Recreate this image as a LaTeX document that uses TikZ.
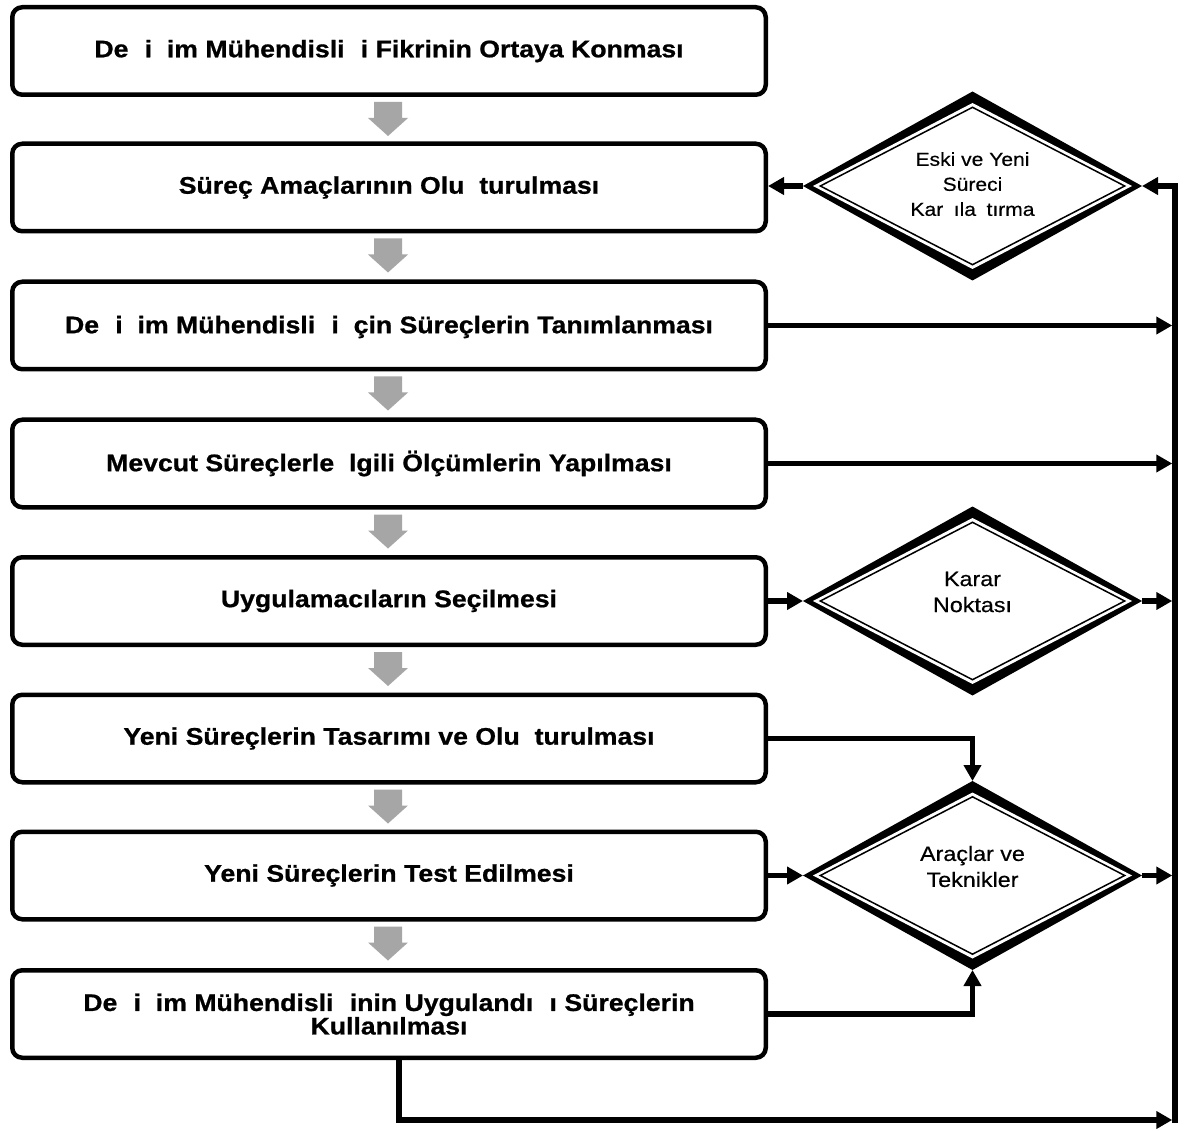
\documentclass[tikz,border=0pt]{standalone}
\usepackage{fontspec}
\setmainfont{Liberation Sans}
\newfontfamily\boxfont[FakeStretch=1.11, BoldFeatures={FakeBold=0.8}]{Liberation Sans}
\newfontfamily\diafont[FakeStretch=1.12, FakeBold=0.4]{Liberation Sans}
\usetikzlibrary{shapes.geometric,arrows.meta,calc}
\definecolor{arrowgray}{RGB}{166,166,166}
% width of a glyph that the source font could not show
\newcommand{\nog}[1]{\phantom{#1}}
\begin{document}
\begin{tikzpicture}[x=1pt,y=-1pt,
  >={Triangle[length=16pt,width=17pt]},
  stepbox/.style={draw, line width=4.5pt, rounded corners=10pt,
    minimum width=753.5pt, minimum height=87.5pt, inner sep=0pt, align=center,
    font=\boxfont\bfseries\fontsize{24}{20}\selectfont},
  conn/.style={draw, line width=5.5pt, ->},
  diaouter/.style={diamond, fill=black, minimum width=339pt, minimum height=189pt,
    inner sep=0pt, outer sep=0pt},
  diawhite/.style={diamond, fill=white, minimum width=319pt, minimum height=166pt,
    inner sep=0pt, outer sep=0pt},
  diathin/.style={diamond, draw, line width=1.5pt, minimum width=305pt,
    minimum height=158pt, inner sep=0pt},
  diatext/.style={align=center, inner sep=0pt},
]
\useasboundingbox (0,0) rectangle (1189,1131);
\fill[white] (0,0) rectangle (1189,1131);

% process steps
\node[stepbox] (b1) at (389,51)     {De\nog{ğ}i\nog{ş}im Mühendisli\nog{ğ}i Fikrinin Ortaya Konması};
\node[stepbox] (b2) at (389,187.5)  {Süreç Amaçlarının Olu\nog{ş}turulması};
\node[stepbox] (b3) at (389,325.5)  {De\nog{ğ}i\nog{ş}im Mühendisli\nog{ğ}i \nog{İ}çin Süreçlerin Tanımlanması};
\node[stepbox] (b4) at (389,463.5)  {Mevcut Süreçlerle \nog{İ}lgili Ölçümlerin Yapılması};
\node[stepbox] (b5) at (389,601)    {Uygulamacıların Seçilmesi};
\node[stepbox] (b6) at (389,738.5)  {Yeni Süreçlerin Tasarımı ve Olu\nog{ş}turulması};
\node[stepbox] (b7) at (389,875.5)  {Yeni Süreçlerin Test Edilmesi};
\node[stepbox] (b8) at (389,1014)   {De\nog{ğ}i\nog{ş}im Mühendisli\nog{ğ}inin Uygulandı\nog{ğ}ı Süreçlerin\\Kullanılması};

% gray block arrows between consecutive steps
\foreach \i in {1,...,7}{
  \fill[arrowgray] ($(b\i.south)+(-15,5)$) -- ++(28,0) -- ++(0,16) -- ++(6,0)
    -- ++(-20,18) -- ++(-20,-18) -- ++(6,0) -- cycle;
}

% decision diamonds: heavy outline with a thin inner line
\foreach \n/\y in {d1/186, d2/601, d3/875.5}{
  \node[diaouter] (\n) at (972.5,\y) {};
  \node[diawhite] (\n w) at (\n) {};
  \node[diathin] (\n i) at (\n) {};
}
\node[diatext, font=\diafont\fontsize{18.8}{25}\selectfont] (d1t) at (d1)
  {Eski ve Yeni\\Süreci\\Kar\nog{ş}ıla\nog{ş}tırma};
\node[diatext, font=\diafont\fontsize{20.8}{26}\selectfont] (d2t) at ($(d2)+(0,-9)$)
  {Karar\\Noktası};
\node[diatext, font=\diafont\fontsize{20.8}{26}\selectfont] (d3t) at ($(d3)+(0,-9)$)
  {Araçlar ve\\Teknikler};

% feedback bus on the right
\coordinate (bus) at (1172.25,0);
\coordinate (busbot) at (1175,1122.75);
\coordinate (busend) at (1172.25,1120);
\draw[conn] (busbot) |- (d1.east);
\draw[conn] (d1.west) -- (d1.west -| b2.east);
\draw[conn] (b3.east) -- (b3.east -| bus);
\draw[conn] (b4.east) -- (b4.east -| bus);
\draw[conn] (b5.east) -- (d2.west);
\draw[conn] (d2.east) -- (d2.east -| bus);
\draw[conn] (b6.east) -| (d3.north);
\draw[conn] (b7.east) -- (d3.west);
\draw[conn] (d3.east) -- (d3.east -| bus);
\draw[conn] (b8.east) -| (d3.south);
\draw[conn] ($(b8.south)+(10,0)$) |- (busend);
\end{tikzpicture}
\end{document}
